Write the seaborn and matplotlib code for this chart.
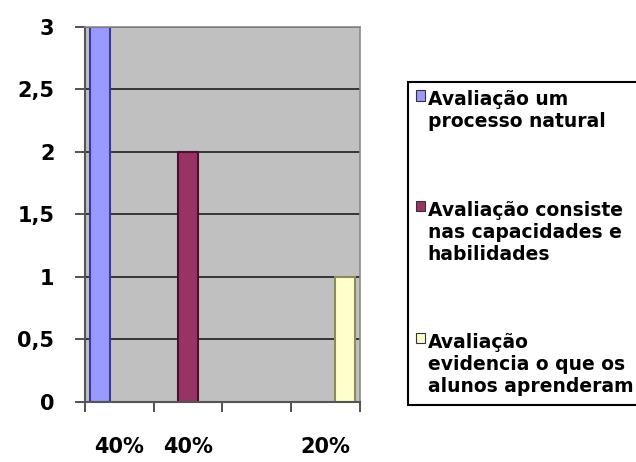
import matplotlib
matplotlib.use("Agg")
import matplotlib.pyplot as plt
from matplotlib.ticker import FixedLocator, FuncFormatter
import seaborn as sns
import pandas as pd

# ---- data ----
series = [
    "Avaliação um\nprocesso natural",
    "Avaliação consiste\nnas capacidades e\nhabilidades",
    "Avaliação\nevidencia o que os\nalunos aprenderam",
]
values = [3, 2, 1]
slots = ["c1", "c2", "c4"]           # category slot each series sits in
categories = ["c1", "c2", "c3", "c4"]
tick_labels = ["40%", "40%", "", "20%"]
colors = ["#9999FF", "#993366", "#FFFFCC"]
edge_colors = ["#3A3A9A", "#4A1030", "#8C8C5A"]
y_ticks = [0, 0.5, 1, 1.5, 2, 2.5, 3]

df = pd.DataFrame({"slot": slots, "value": values, "series": series})

sns.set_theme(style="white")
plt.rcParams["font.family"] = ["DejaVu Sans"]
plt.rcParams["font.weight"] = "bold"
plt.rcParams["text.color"] = "black"

fig = plt.figure(figsize=(6.36, 4.62), dpi=100)
ax = fig.add_axes([0.1336, 0.1299, 0.4324, 0.8117])
ax.set_facecolor("#C0C0C0")

sns.barplot(data=df, x="slot", y="value", hue="series", order=categories,
            hue_order=series, palette=colors, width=0.85, dodge=True,
            saturation=1, ax=ax, legend=True)

# bar edges
for cont, ec in zip(ax.containers, edge_colors):
    for p in cont:
        p.set_edgecolor(ec)
        p.set_linewidth(1.5)

ax.set_ylim(0, 3)
ax.set_xlim(-0.5, len(categories) - 0.5)
ax.yaxis.set_major_locator(FixedLocator(y_ticks))
ax.yaxis.set_major_formatter(FuncFormatter(lambda v, p: f"{v:g}".replace(".", ",")))
ax.grid(axis="y", color="#2a2a2a", linewidth=1.3)
ax.set_axisbelow(True)

ax.set_xticks(range(len(categories)))
ax.set_xticklabels(tick_labels)
ax.set_xticks([i - 0.5 for i in range(len(categories) + 1)], minor=True)
ax.tick_params(axis="x", which="major", length=0, pad=25, labelsize=15)
ax.tick_params(axis="x", which="minor", length=7, width=1.2, color="#333333",
               direction="out", bottom=True)
ax.tick_params(axis="y", which="major", length=7, width=1.2, color="#333333",
               direction="out", left=True, pad=15, labelsize=15)
for lab in ax.get_xticklabels() + ax.get_yticklabels():
    lab.set_fontweight("bold")
    lab.set_color("black")
ax.set_xlabel("")
ax.set_ylabel("")

for s in ["top", "right"]:
    ax.spines[s].set_color("#8a8a8a")
    ax.spines[s].set_linewidth(1.2)
for s in ["left", "bottom"]:
    ax.spines[s].set_color("#555555")
    ax.spines[s].set_linewidth(1.5)

handles, labels = ax.get_legend_handles_labels()
ax.get_legend().remove()
leg = fig.legend(handles, labels, loc="upper left",
                 bbox_to_anchor=(408 / 636, 1 - 82 / 462),
                 borderaxespad=0, frameon=True, fancybox=False,
                 edgecolor="black", facecolor="white", framealpha=1,
                 handlelength=0.45, handleheight=0.45, handletextpad=0.15,
                 labelspacing=3.7, borderpad=0.45, labelcolor="black",
                 prop={"weight": "bold", "size": 13.5})
leg.get_frame().set_linewidth(1.5)
for h in leg.legend_handles:
    h.set_edgecolor("#333333")
    h.set_linewidth(0.8)
try:
    for col in leg._legend_handle_box.get_children():
        for item in col.get_children():
            item.align = "top"
except Exception:
    pass

fig.savefig("out.png", dpi=100)
